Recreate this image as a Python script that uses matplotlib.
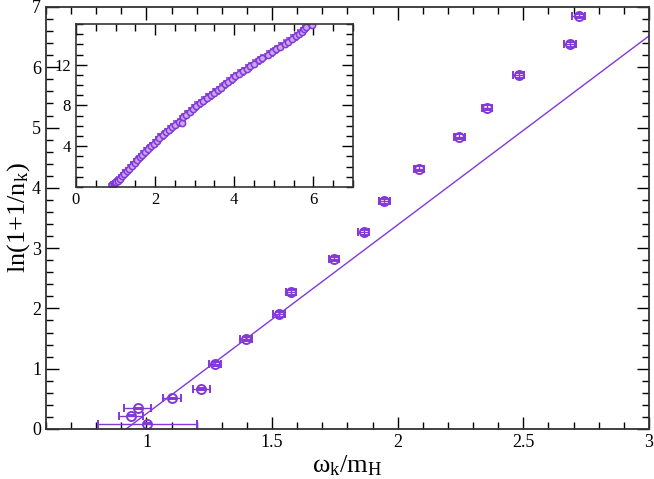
import matplotlib
matplotlib.use("Agg")
import matplotlib.pyplot as plt
from matplotlib.ticker import MultipleLocator, FormatStrFormatter

plt.rcParams['font.family'] = ['Liberation Serif', 'DejaVu Serif']
plt.rcParams['mathtext.fontset'] = 'custom'
plt.rcParams['mathtext.rm'] = 'Liberation Serif'
plt.rcParams['mathtext.it'] = 'Liberation Serif'
plt.rcParams['mathtext.bf'] = 'Liberation Serif'

purple = '#8338d8'

# main panel data
omega = [0.939, 0.965, 1.003, 1.102, 1.218, 1.273, 1.397, 1.527, 1.577,
         1.748, 1.865, 1.947, 2.084, 2.245, 2.356, 2.482, 2.686, 2.720]
ln_n = [0.22, 0.34, 0.09, 0.51, 0.66, 1.08, 1.49, 1.90, 2.27,
        2.82, 3.26, 3.78, 4.32, 4.85, 5.33, 5.87, 6.38, 6.85]
omega_err = [0.047, 0.053, 0.197, 0.037, 0.033, 0.023, 0.024, 0.025, 0.020,
             0.020, 0.022, 0.022, 0.020, 0.022, 0.020, 0.022, 0.025, 0.025]
ln_err = [0.01, 0.01, 0.01, 0.01, 0.02, 0.03, 0.03, 0.04, 0.04,
          0.04, 0.04, 0.04, 0.04, 0.04, 0.04, 0.04, 0.04, 0.04]

# straight line
fit_x = [0.919, 3.0]
fit_y = [0.0, 6.52]

# inset data
ins_x = [0.92, 0.95, 0.98, 1.02, 1.06, 1.10, 1.16, 1.22, 1.28, 1.34, 1.41,
         1.48, 1.54, 1.61, 1.68, 1.75, 1.82, 1.89, 1.96, 2.04, 2.11, 2.19,
         2.27, 2.35, 2.43, 2.51, 2.60, 2.68, 2.70, 2.78, 2.87, 2.95, 3.04,
         3.13, 3.22, 3.31, 3.40, 3.49, 3.58, 3.67, 3.76, 3.85, 3.94, 4.03,
         4.12, 4.22, 4.31, 4.41, 4.50, 4.62, 4.71, 4.86, 4.95, 5.06, 5.15,
         5.27, 5.36, 5.47, 5.56, 5.64, 5.70, 5.76, 5.82, 5.96]
ins_y = [0.15, 0.25, 0.35, 0.45, 0.62, 0.80, 1.05, 1.30, 1.55, 1.80, 2.10,
         2.38, 2.62, 2.90, 3.18, 3.45, 3.72, 3.98, 4.25, 4.55, 4.82, 5.08,
         5.35, 5.62, 5.88, 6.12, 6.35, 6.30, 6.85, 7.10, 7.40, 7.68, 7.95,
         8.22, 8.48, 8.75, 9.00, 9.25, 9.50, 9.75, 10.10, 10.35, 10.60, 10.85,
         11.10, 11.35, 11.60, 11.85, 12.08, 12.42, 12.65, 13.00, 13.22, 13.50, 13.75,
         14.05, 14.25, 14.55, 14.78, 15.05, 15.25, 15.50, 15.70, 15.95]
ins_xerr = 0.08
ins_yerr = 0.35

fig = plt.figure(figsize=(6.54, 4.79), dpi=100)
ax = fig.add_axes([0.0703, 0.1044, 0.922, 0.881])

ax.plot(fit_x, fit_y, color=purple, lw=1.0)
ax.errorbar(omega, ln_n, xerr=omega_err, yerr=ln_err, fmt='o', ms=6.5,
            mfc='none', mec=purple, mew=1.4, ecolor=purple,
            elinewidth=1.0, capsize=3)

ax.set_xlim(0.6, 3.0)
ax.set_ylim(0, 7)
ax.xaxis.set_major_locator(MultipleLocator(0.5))
ax.xaxis.set_minor_locator(MultipleLocator(0.1))
ax.yaxis.set_major_locator(MultipleLocator(1))
ax.yaxis.set_minor_locator(MultipleLocator(0.2))
ax.xaxis.set_major_formatter(FormatStrFormatter('%g'))
ax.tick_params(which='both', direction='in', top=True, right=True,
               labelsize=13, width=1.0)
ax.tick_params(which='major', length=9)
ax.tick_params(which='minor', length=5)
for s in ax.spines.values():
    s.set_linewidth(1.3)
    s.set_color('#333333')
ax.set_xlabel(r'$\mathrm{\omega_k/m_H}$', fontsize=19, labelpad=2)
ax.set_ylabel(r'ln(1+1/n$_\mathrm{k}$)', fontsize=19, labelpad=0)

ins = fig.add_axes([0.1162, 0.6096, 0.4235, 0.3403])
ins.errorbar(ins_x, ins_y, xerr=ins_xerr, yerr=ins_yerr, fmt='o', ms=4.5,
             mfc='#c9a8f0', mec=purple, mew=1.1, ecolor=purple,
             elinewidth=0.9, capsize=1.5)
ins.set_xlim(0, 7)
ins.set_ylim(0, 16)
ins.set_xticks([0, 2, 4, 6])
ins.set_yticks([4, 8, 12])
ins.xaxis.set_minor_locator(MultipleLocator(0.5))
ins.yaxis.set_minor_locator(MultipleLocator(1))
ins.tick_params(which='both', direction='in', top=True, right=True,
                labelsize=12, width=1.0)
ins.tick_params(which='major', length=8)
ins.tick_params(which='minor', length=5)
for s in ins.spines.values():
    s.set_linewidth(1.2)
    s.set_color('#333333')

fig.savefig('out.png', dpi=100)
